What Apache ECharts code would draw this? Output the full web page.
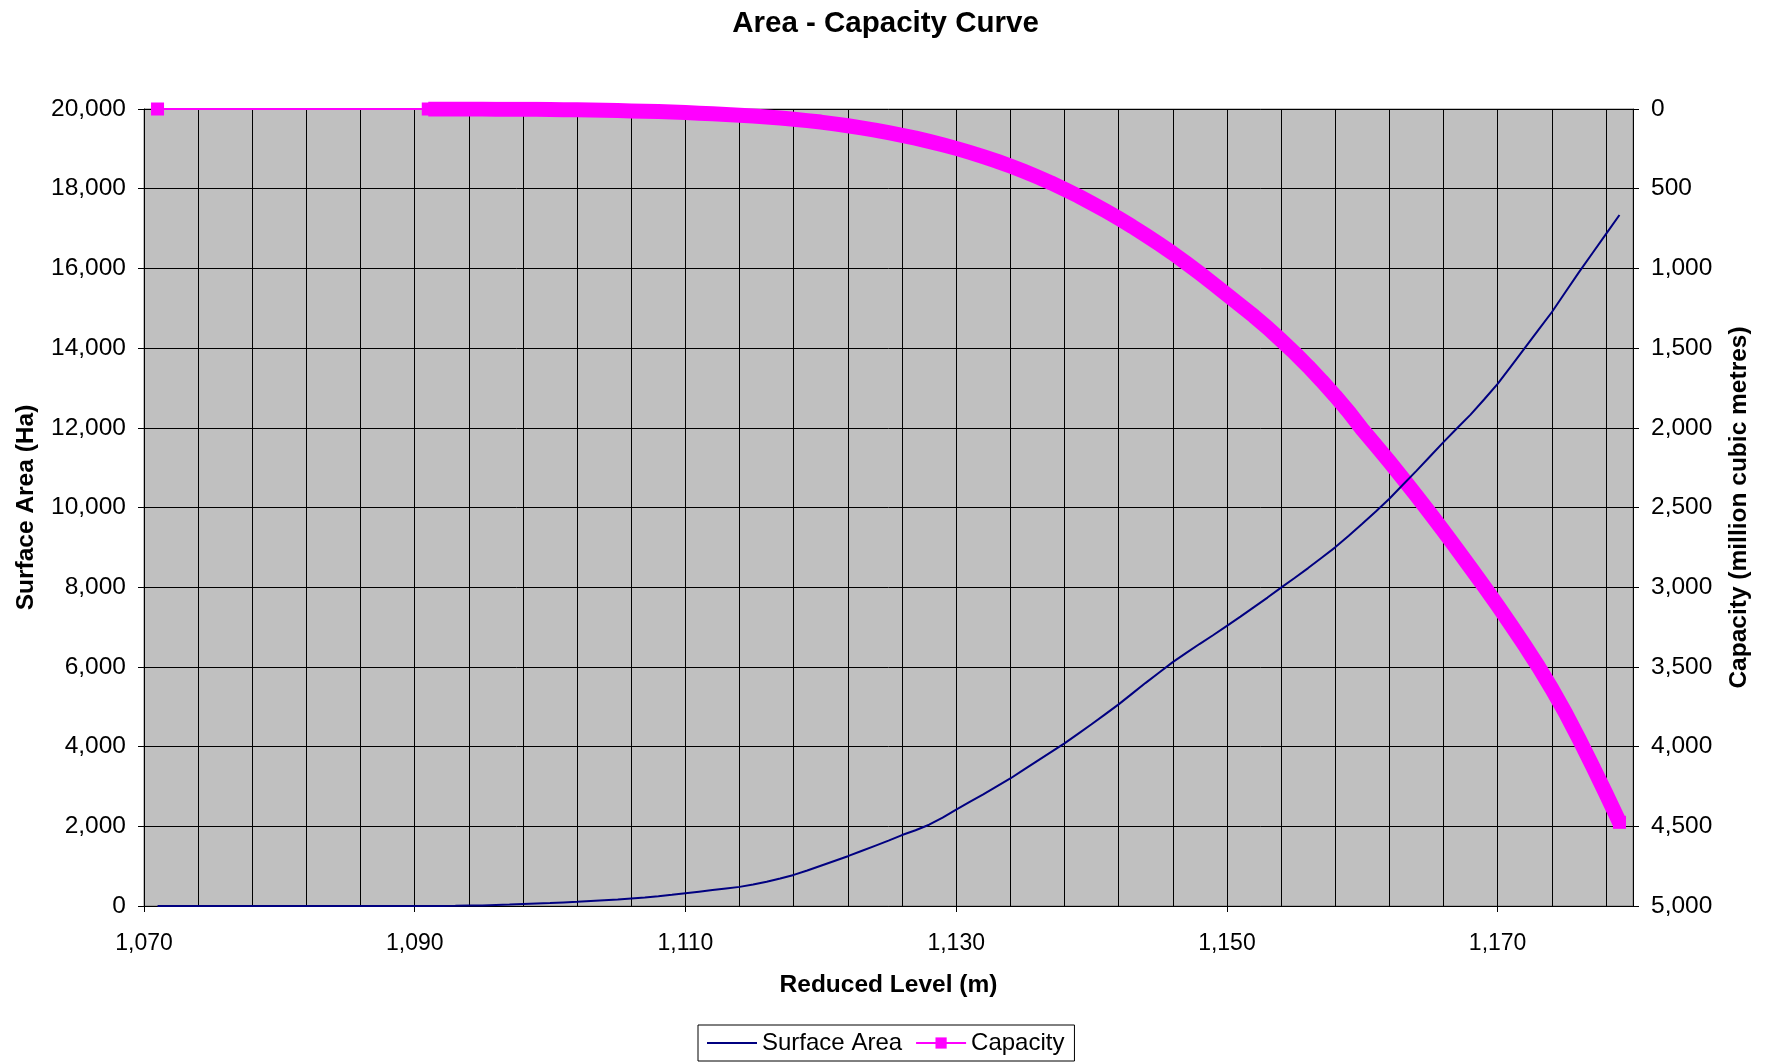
<!DOCTYPE html>
<html>
<head>
<meta charset="utf-8">
<script src="https://cdn.jsdelivr.net/npm/echarts@6/dist/echarts.min.js"></script>
<style>
html,body{margin:0;padding:0;background:#fff;}
#chart{width:1771px;height:1063px;}
</style>
</head>
<body>
<div id="chart"></div>
<script>
// Reduced level (m)
const levels = [1071,
  1091,1092,1093,1094,1095,1096,1097,1098,1099,1100,
  1101,1102,1103,1104,1105,1106,1107,1108,1109,1110,
  1111,1112,1113,1114,1115,1116,1117,1118,1119,1120,
  1121,1122,1123,1124,1125,1126,1127,1128,1129,1130,
  1131,1132,1133,1134,1135,1136,1137,1138,1139,1140,
  1141,1142,1143,1144,1145,1146,1147,1148,1149,1150,
  1151,1152,1153,1154,1155,1156,1157,1158,1159,1160,
  1161,1162,1163,1164,1165,1166,1167,1168,1169,1170,
  1171,1172,1173,1174,1175,1176,1177,1178,1179];

// Surface Area (Ha)
const surfaceArea = [0,
  0,2,5,10,15,25,35,50,65,75,
  90,105,125,145,165,190,215,245,280,320,
  360,400,440,480,540,610,690,780,890,1010,
  1130,1250,1380,1510,1640,1780,1900,2040,2220,2420,
  2610,2800,3000,3200,3420,3640,3860,4080,4320,4560,
  4810,5060,5330,5600,5860,6120,6350,6580,6800,7030,
  7260,7500,7740,7990,8230,8480,8740,9000,9290,9590,
  9900,10220,10570,10920,11280,11640,11990,12330,12710,13100,
  13550,14000,14450,14900,15400,15900,16380,16860,17340];

// Capacity (million cubic metres)
const capacity = [0,
  0,0,0,0,0,1,1,2,2,3,
  4,5,6,8,10,12,14,16,19,22,
  26,30,34,39,44,50,57,64,73,82,
  93,105,118,132,148,165,183,203,224,247,
  272,299,327,358,391,426,463,503,545,590,
  637,686,737,791,847,905,967,1031,1097,1165,
  1232,1300,1372,1450,1530,1615,1705,1800,1900,2010,
  2110,2212,2318,2425,2535,2648,2762,2878,2995,3115,
  3238,3365,3497,3637,3787,3950,4120,4295,4475];

const xLabelValues = [1070,1090,1110,1130,1150,1170];
const xMin = 1070, xMax = 1180;
const areaMax = 20000, areaStep = 2000;
const capMax = 5000, capStep = 500;

const FONT = "'Liberation Sans', Arial, sans-serif";
const fmt = v => Number(v).toLocaleString('en-US');

const capPoints = levels.map((x,i)=>[x, capacity[i]]);
const areaPoints = levels.map((x,i)=>[x, surfaceArea[i]]);
// the densely marked part of the capacity curve (from 1,091 m on)
const capDense = capPoints.filter(p => p[0] >= 1091);
const lastIdx = capPoints.length - 1;

const chart = echarts.init(document.getElementById('chart'), null, {renderer:'canvas'});
chart.setOption({
  animation:false,
  backgroundColor:'#ffffff',
  textStyle:{fontFamily:FONT, color:'#000'},
  title:{
    text:'Area - Capacity Curve', left:'center', top:4,
    textStyle:{fontFamily:FONT, fontSize:29.5, fontWeight:'bold', color:'#000'}
  },
  grid:{left:144, right:138, top:109, bottom:157, show:true,
        backgroundColor:'#C0C0C0', borderColor:'#808080', borderWidth:1},
  legend:{
    left:698, top:1025, orient:'horizontal',
    padding:[6,10,6,9], itemGap:13, itemWidth:50, itemHeight:14,
    borderColor:'#000', borderWidth:1, backgroundColor:'#fff',
    textStyle:{fontFamily:FONT, fontSize:24, color:'#000'},
    data:[{name:'Surface Area', icon:'path://M0,0H50V2H0Z'}, 'Capacity']
  },
  xAxis:[
    {type:'value', min:xMin, max:xMax, interval:4, position:'bottom',
     axisLine:{show:true, onZero:false, lineStyle:{color:'#000', width:1}},
     axisTick:{show:false}, axisLabel:{show:false},
     splitLine:{show:true, lineStyle:{color:'#000', width:1}}},
    {type:'value', min:xMin, max:xMax, interval:20, position:'bottom',
     axisLine:{show:false},
     axisTick:{show:true, length:6, lineStyle:{color:'#000'}, customValues:xLabelValues},
     axisLabel:{show:true, customValues:xLabelValues, fontFamily:FONT, fontSize:23, color:'#000', margin:26,
       formatter:v => ((v - xMin) % 20 === 0 ? fmt(v) : '')},
     splitLine:{show:false},
     name:'Reduced Level (m)', nameLocation:'middle', nameGap:67,
     nameTextStyle:{fontFamily:FONT, fontSize:24.5, fontWeight:'bold', color:'#000'}}
  ],
  yAxis:[
    {type:'value', min:0, max:areaMax, interval:areaStep, position:'left',
     axisLine:{show:true, lineStyle:{color:'#000', width:1}},
     axisTick:{show:true, length:6, lineStyle:{color:'#000'}},
     axisLabel:{fontFamily:FONT, fontSize:24.5, color:'#000', margin:18, formatter:fmt},
     splitLine:{show:true, lineStyle:{color:'#000', width:1}},
     name:'Surface Area (Ha)', nameLocation:'middle', nameRotate:90, nameGap:105,
     nameTextStyle:{fontFamily:FONT, fontSize:24.5, fontWeight:'bold', color:'#000'}},
    {type:'value', min:0, max:capMax, interval:capStep, position:'right', inverse:true,
     axisLine:{show:true, lineStyle:{color:'#000', width:1}},
     axisTick:{show:true, length:6, lineStyle:{color:'#000'}},
     axisLabel:{fontFamily:FONT, fontSize:24.5, color:'#000', margin:18, formatter:fmt},
     splitLine:{show:false},
     name:'Capacity (million cubic metres)', nameLocation:'middle', nameRotate:90, nameGap:94,
     nameTextStyle:{fontFamily:FONT, fontSize:24.5, fontWeight:'bold', color:'#000'}}
  ],
  series:[
    {name:'Capacity', type:'line', xAxisIndex:0, yAxisIndex:1,
     data:capPoints,
     symbol:'rect',
     symbolSize:(val, params) => (params.dataIndex <= 1 || params.dataIndex === lastIdx) ? 13 : 0,
     showSymbol:true, showAllSymbol:true,
     lineStyle:{color:'#FF00FF', width:2},
     itemStyle:{color:'#FF00FF', borderWidth:0},
     z:2},
    {name:'Capacity', type:'line', xAxisIndex:0, yAxisIndex:1,
     data:capDense,
     symbol:'none', showSymbol:false, silent:true,
     lineStyle:{color:'#FF00FF', width:15, cap:'butt', join:'round'},
     itemStyle:{color:'#FF00FF'},
     z:1},
    {name:'Surface Area', type:'line', xAxisIndex:0, yAxisIndex:0,
     data:areaPoints,
     symbol:'none', showSymbol:false,
     lineStyle:{color:'#000080', width:2},
     itemStyle:{color:'#000080'},
     z:3}
  ]
});
</script>
</body>
</html>
